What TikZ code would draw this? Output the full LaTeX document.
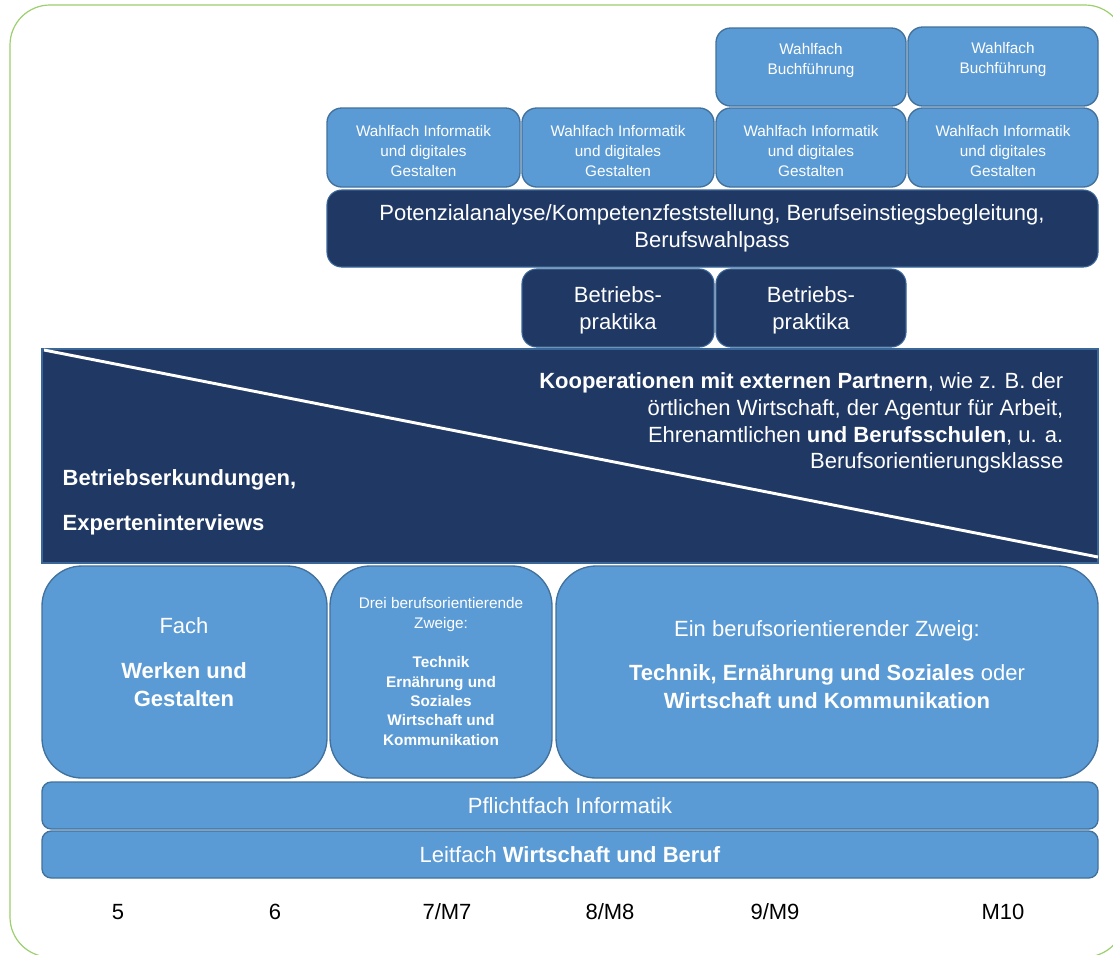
\documentclass[tikz,border=0pt]{standalone}
\usepackage{fontspec}
\setmainfont{Liberation Sans}
\definecolor{boxblue}{HTML}{5B9BD5}
\definecolor{boxedge}{HTML}{41719C}
\definecolor{navy}{HTML}{203864}
\definecolor{navyedge}{HTML}{3A6698}
\definecolor{framegreen}{HTML}{9CCF6E}
\begin{document}
\begin{tikzpicture}[x=0.75pt,y=-0.75pt,
  lightbox/.style={fill=boxblue,draw=boxedge,line width=1pt,rounded corners=11pt},
  darkbox/.style={fill=navy,draw=navyedge,line width=0.8pt,rounded corners=11pt},
  bigtext/.style={text=white,align=center,font=\fontsize{16.5}{20}\selectfont},
  smalltext/.style={text=white,align=center,font=\fontsize{11.5}{15}\selectfont}]
  \useasboundingbox (0,0) rectangle (1113,954);
  \fill[white] (0,0) rectangle (1113,954);
  \draw[framegreen,line width=0.9pt,rounded corners=30pt] (10,5) rectangle (1125,957);

  % elective rows
  \draw[lightbox] (716,28) rectangle (906,106);
  \draw[lightbox] (908,27) rectangle (1098,106);
  \node[smalltext] (buch1) at (811,61) {Wahlfach\\Buchführung};
  \node[smalltext] (buch2) at (1003,60) {Wahlfach\\Buchführung};

  \foreach \xa/\xb [count=\i] in {327/520,522/714,716/906,908/1098}{
    \draw[lightbox] (\xa,108) rectangle (\xb,187);
    \node[smalltext] (info\i) at ({(\xa+\xb)/2},151)
      {Wahlfach Informatik\\und digitales\\Gestalten};
  }

  % dark boxes
  \draw[darkbox] (327,190) rectangle (1098,267);
  \node[bigtext] (potenzial) at (712,228)
    {Potenzialanalyse/Kompetenzfeststellung, Berufseinstiegsbegleitung,\\Berufswahlpass};
  \draw[darkbox] (522,269) rectangle (714,347);
  \draw[darkbox] (716,269) rectangle (906,347);
  \node[bigtext] (prak1) at (618,310) {Betriebs-\\praktika};
  \node[bigtext] (prak2) at (811,310) {Betriebs-\\praktika};

  % diagonal band
  \fill[navy] (42,349) rectangle (1098,563);
  \draw[navyedge,line width=0.8pt] (42,349) rectangle (1098,563);
  \draw[white,line width=2.2pt] (44,350) -- (1098,557);
  \node[bigtext,align=right,anchor=east] (koop) at (1068,423)
    {\textbf{Kooperationen mit externen Partnern}, wie z. B. der\\
     örtlichen Wirtschaft, der Agentur für Arbeit,\\
     Ehrenamtlichen \textbf{und Berufsschulen}, u. a.\\
     Berufsorientierungsklasse};
  \node[bigtext,anchor=west,font=\fontsize{16.5}{20}\selectfont\bfseries] (erkund) at (58,480)
    {Betriebserkundungen,};
  \node[bigtext,anchor=west,font=\fontsize{16.5}{20}\selectfont\bfseries] (experten) at (58,525)
    {Experteninterviews};

  % subject boxes
  \draw[lightbox,rounded corners=30pt] (42,566) rectangle (327,778);
  \draw[lightbox,rounded corners=30pt] (330,566) rectangle (552,778);
  \draw[lightbox,rounded corners=30pt] (556,566) rectangle (1098,778);
  \node[bigtext] (fach) at (184,626) {Fach};
  \node[bigtext,font=\fontsize{16.5}{21}\selectfont\bfseries] (werken) at (184,685)
    {Werken und\\Gestalten};
  \node[smalltext] (drei) at (441,615) {Drei berufsorientierende\\Zweige:};
  \node[smalltext,font=\fontsize{11.5}{14.6}\selectfont\bfseries] (zweige) at (441,701)
    {Technik\\Ernährung und\\Soziales\\Wirtschaft und\\Kommunikation};
  \node[bigtext] (ein) at (827,631) {Ein berufsorientierender Zweig:};
  \node[bigtext,font=\fontsize{16.5}{21}\selectfont] (zweig) at (827,687)
    {\textbf{Technik, Ernährung und Soziales} oder\\\textbf{Wirtschaft und Kommunikation}};

  % bottom bars
  \draw[lightbox,rounded corners=7pt] (42,782) rectangle (1098,829);
  \node[bigtext] (pflicht) at (570,806) {Pflichtfach Informatik};
  \draw[lightbox,rounded corners=7pt] (42,831) rectangle (1098,878);
  \node[bigtext] (leit) at (570,855) {Leitfach \textbf{Wirtschaft und Beruf}};

  % grades
  \foreach \x/\lab [count=\i] in {118/5,275/6,447/{7/M7},610/{8/M8},775/{9/M9},1003/M10}{
    \node[font=\fontsize{16.5}{20}\selectfont] (grade\i) at (\x,912) {\lab};
  }
\end{tikzpicture}
\end{document}
